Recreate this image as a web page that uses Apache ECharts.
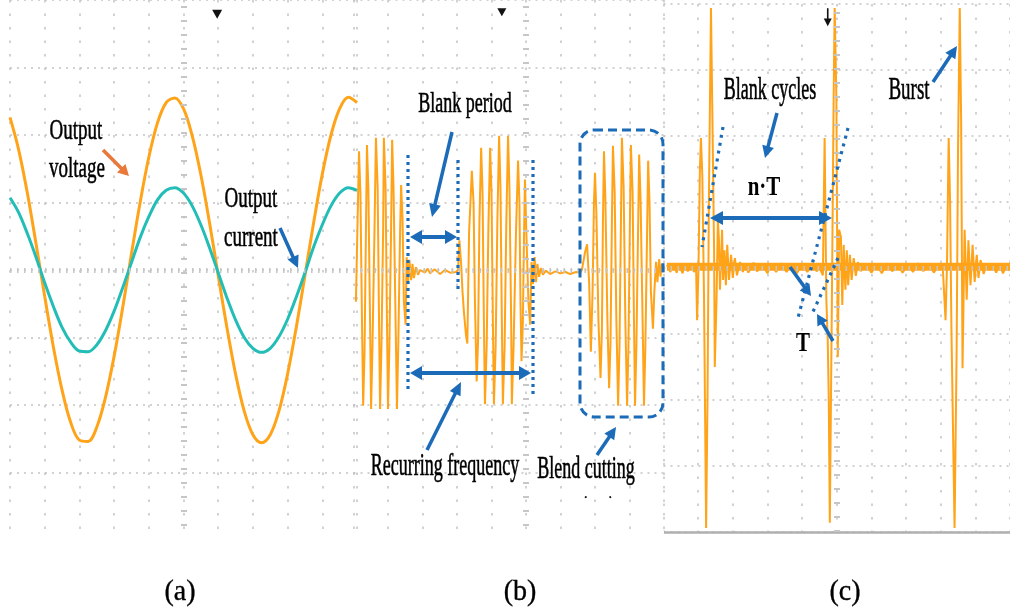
<!DOCTYPE html>
<html><head><meta charset="utf-8">
<script src="https://cdn.jsdelivr.net/npm/echarts@6/dist/echarts.min.js"></script>
<style>html,body{margin:0;padding:0;background:#fff}#c{width:1010px;height:609px}</style>
</head><body><div id="c"></div>
<script>
// ---------- DATA (divisions of the oscilloscope screen) ----------
// Panel (a): sample positions (div) and traces (div)
const aX = [0,0.25,0.5,0.75,1,1.25,1.5,1.75,2,2.25,2.5,2.75,3,3.25,3.5,3.75,4,4.25,4.5,4.75,5,5.25,5.5,5.75,6,6.25,6.5,6.75,7,7.25,7.5,7.75,8,8.25,8.5,8.75,9,9.25,9.5,9.75,10];
const aVoltage = [2.26,1.78,1.14,0.39,-0.39,-1.14,-1.78,-2.26,-2.52,-2.54,-2.33,-1.89,-1.28,-0.55,0.24,1.00,1.67,2.18,2.48,2.55,2.39,1.99,1.41,0.70,-0.08,-0.85,-1.54,-2.09,-2.44,-2.56,-2.44,-2.09,-1.54,-0.85,-0.08,0.70,1.42,2.00,2.39,2.56,2.48];
const aCurrent = [1.07,0.85,0.54,0.19,-0.19,-0.54,-0.85,-1.07,-1.20,-1.21,-1.11,-0.90,-0.61,-0.26,0.11,0.48,0.79,1.04,1.18,1.22,1.14,0.95,0.67,0.33,-0.04,-0.41,-0.74,-1.00,-1.16,-1.22,-1.16,-0.99,-0.73,-0.40,-0.04,0.34,0.67,0.95,1.14,1.22,1.18];

// Panel (b): three bursts [time div, amplitude div]
const bBurst1 = [[0.07,-0.47],[0.16,1.76],[0.20,1.15],[0.25,-0.91],[0.28,-2.01],[0.32,-1.21],[0.36,0.56],[0.39,1.85],[0.43,1.22],[0.48,-0.76],[0.51,-2.06],[0.55,-1.13],[0.61,0.63],[0.65,1.96],[0.70,1.22],[0.74,-0.76],[0.77,-2.06],[0.81,-1.13],[0.86,0.63],[0.88,1.96],[0.93,1.22],[0.97,-0.76],[1.00,-2.06],[1.04,-1.13],[1.09,0.63],[1.12,1.93],[1.16,1.22],[1.22,-0.76],[1.26,-2.06],[1.30,-1.06],[1.35,0.56],[1.38,1.26],[1.42,0.78],[1.46,-0.47],[1.51,-0.81],[1.54,0.19],[1.58,-0.18],[1.62,0.15],[1.67,-0.15],[1.71,0.09],[1.75,-0.12],[1.81,0.04],[1.87,-0.07],[1.93,0],[2.07,-0.04],[2.15,0.02],[2.22,-0.05],[2.35,0.01],[2.51,-0.06],[2.65,0.0],[2.80,-0.04],[2.97,-0.03]];
const bBurst2 = [[3.03,0],[3.07,0.44],[3.12,0.09],[3.16,-0.32],[3.20,-0.62],[3.26,-0.96],[3.30,-1.09],[3.35,0.56],[3.39,1.0],[3.43,1.47],[3.48,1.0],[3.52,-0.47],[3.57,-1.65],[3.61,-1.06],[3.65,0.71],[3.70,1.81],[3.74,1.15],[3.78,-0.76],[3.81,-1.99],[3.86,-1.13],[3.91,0.63],[3.96,1.81],[4.00,1.15],[4.04,-0.76],[4.07,-1.99],[4.12,-1.13],[4.17,0.71],[4.22,1.99],[4.26,1.22],[4.30,-0.76],[4.33,-1.99],[4.38,-1.13],[4.43,0.71],[4.48,1.99],[4.52,1.22],[4.57,-0.76],[4.59,-1.99],[4.64,-1.13],[4.71,0.56],[4.77,1.62],[4.81,1.0],[4.84,-0.47],[4.87,-1.35],[4.91,-0.76],[4.94,0.41],[4.97,1.34],[5.01,0.56],[5.07,-0.47],[5.12,-0.81],[5.16,0.12],[5.20,-0.21],[5.25,0.19],[5.29,-0.18],[5.33,0.09],[5.38,-0.10],[5.43,0.03],[5.49,-0.07],[5.58,-0.01],[5.70,-0.06],[5.85,-0.02],[5.99,-0.05],[6.15,-0.03],[6.28,-0.06],[6.45,-0.03],[6.57,-0.04]];
const bBurst3 = [[6.62,0],[6.71,0.26],[6.77,0.38],[6.83,-0.18],[6.88,-1.21],[6.93,-0.32],[6.97,1.0],[7.00,1.44],[7.04,0.85],[7.10,-0.76],[7.16,-1.60],[7.20,-0.91],[7.23,0.71],[7.26,1.76],[7.30,1.07],[7.36,-0.76],[7.41,-1.75],[7.45,-1.06],[7.49,0.71],[7.52,1.84],[7.57,1.15],[7.62,-0.76],[7.67,-2.01],[7.71,-1.13],[7.75,0.63],[7.78,1.96],[7.83,1.22],[7.88,-0.76],[7.93,-2.01],[7.97,-1.13],[8.01,0.63],[8.04,1.85],[8.09,1.15],[8.13,-0.76],[8.16,-2.01],[8.20,-1.13],[8.25,0.63],[8.28,1.71],[8.32,1.07],[8.38,-0.76],[8.42,-2.01],[8.46,-1.13],[8.51,0.56],[8.54,1.62],[8.58,1.0],[8.62,-0.32],[8.68,-0.87],[8.72,-0.32],[8.77,0.12],[8.81,-0.18],[8.86,0.16],[8.90,-0.10],[8.94,0.09],[9.0,0]];

// Panel (c): baseline noise and three bursts [time div, amplitude div]
const cBand = [[0.1,0.02],[10,0.02]];
const cNoise1 = [[0.10,0.05],[0.2,-0.06],[0.3,0.07],[0.38,-0.07],[0.45,0.05],[0.55,-0.08],[0.62,0.07],[0.7,-0.05],[0.8,0.06],[0.88,-0.06]];
const cSpike1 = [[0.94,0],[0.97,-0.79],[1.01,0],[1.05,1.48],[1.08,1.97],[1.12,1.41],[1.17,-0.48],[1.23,-3.94],[1.27,-2.0],[1.31,1.03],[1.37,3.94],[1.41,2.35],[1.46,0.27],[1.48,-1.50],[1.53,-0.48],[1.57,0.73],[1.60,0.42],[1.63,-0.33],[1.66,0.12],[1.69,0.58],[1.72,-0.18],[1.76,0.27],[1.80,-0.26],[1.84,0.35],[1.89,-0.18],[1.95,0.20],[2.00,-0.15],[2.06,0.15],[2.12,-0.11],[2.21,0.09],[2.29,-0.06]];
const cNoise2 = [[2.35,0.06],[2.45,-0.07],[2.6,0.08],[2.7,-0.05],[2.85,0.06],[3.0,-0.08],[3.1,0.06],[3.25,-0.06],[3.4,0.07],[3.55,-0.06],[3.7,0.05],[3.85,-0.08],[4.0,0.06],[4.15,-0.06],[4.3,0.07],[4.42,-0.05]];
const cSpike2 = [[4.51,0],[4.60,-0.11],[4.65,1.97],[4.70,-0.48],[4.74,-1.09],[4.77,-2.0],[4.80,-3.86],[4.86,-0.48],[4.91,2.55],[4.94,3.94],[4.99,2.55],[5.03,-1.35],[5.07,0.58],[5.12,0.47],[5.16,-0.56],[5.20,0.35],[5.25,-0.33],[5.29,0.27],[5.33,-0.26],[5.38,0.20],[5.43,-0.18],[5.49,0.15],[5.55,-0.12],[5.61,0.09],[5.69,-0.05],[5.78,0.03]];
const cNoise3 = [[5.85,0.06],[6.0,-0.07],[6.15,0.05],[6.3,-0.08],[6.45,0.07],[6.6,-0.05],[6.75,0.06],[6.9,-0.07],[7.05,0.05],[7.2,-0.06],[7.35,0.07],[7.5,-0.05],[7.65,0.07],[7.8,-0.07],[7.95,0.05]];
const cSpike3 = [[8.06,0],[8.14,-0.79],[8.18,0],[8.23,1.97],[8.27,1.03],[8.31,-0.94],[8.40,-3.94],[8.46,-1.24],[8.50,1.79],[8.55,3.94],[8.59,2.24],[8.63,-1.52],[8.69,0.58],[8.75,-0.48],[8.80,0.42],[8.86,-0.26],[8.92,0.35],[8.98,-0.21],[9.04,0.20],[9.09,-0.15],[9.15,0.12],[9.24,-0.09],[9.32,0.06],[9.41,-0.03]];
const cNoise4 = [[9.5,0.06],[9.6,-0.07],[9.7,0.05],[9.8,-0.08],[9.9,0.06],[10,-0.04]];

// trigger markers [time div, amplitude div]
const aTrig = [5.97, 3.79];
const bTrig = [4.30, 3.82];
const cTrig = [4.74, 3.80];

// ---------- STYLE ----------
const ORANGE = '#FFA319', CYAN = '#22BDB6', BLUE = '#1B6BB8', GRID = '#c3c3c3', TXT = '#000';
const SERIF = '"Liberation Serif","Times New Roman",serif';

function xAx(gi, min, max, showLine) {
  return {type:'value', gridIndex:gi, min:min, max:max, interval:1,
    axisLabel:{show:false}, axisTick:{show:false},
    axisLine:{show:showLine, onZero:false, lineStyle:{color:'#b0b0b0', width:2.5}},
    splitLine:{show:true, lineStyle:{color:GRID, width:1.5, type:[2.5,11]}}};
}
function yAx(gi, min, max) {
  return {type:'value', gridIndex:gi, min:min, max:max, interval:1,
    axisLabel:{show:false}, axisTick:{show:false}, axisLine:{show:false},
    splitLine:{show:true, lineStyle:{color:GRID, width:1.5, type:[2,5]}}};
}
const centerMark = {silent:true, symbol:['none','none'], label:{show:false}, animation:false,
  data:[{xAxis:5, lineStyle:{color:'#c6c6c6', width:6, type:[2,12]}},
        {yAxis:0, lineStyle:{color:'#c6c6c6', width:5, type:[1.5,5.5]}}]};
function trig(coord, sym, size) {
  return {silent:true, animation:false, label:{show:false},
    data:[{coord:coord, symbol:sym, symbolSize:size, symbolRotate:sym==='triangle'?180:0, itemStyle:{color:'#111'}}]};
}

// ---------- ANNOTATIONS ----------
function arrow(x1,y1,x2,y2,color,w,hl,hw,both){
  const a=Math.atan2(y2-y1,x2-x1), c=Math.cos(a), s=Math.sin(a);
  const head=(tx,ty,dir)=>({type:'polygon', z:60, shape:{points:[[tx,ty],[tx-dir*hl*c-hw*s, ty-dir*hl*s+hw*c],[tx-dir*hl*c+hw*s, ty-dir*hl*s-hw*c]]}, style:{fill:color}});
  const sx = both ? x1+hl*0.8*c : x1, sy = both ? y1+hl*0.8*s : y1;
  const els=[{type:'line', z:60, shape:{x1:sx,y1:sy,x2:x2-hl*0.8*c,y2:y2-hl*0.8*s}, style:{stroke:color, lineWidth:w}}, head(x2,y2,1)];
  if(both) els.push(head(x1,y1,-1));
  return els;
}
function dotted(x1,y1,x2,y2,dash){
  return {type:'line', z:60, shape:{x1,y1,x2,y2}, style:{stroke:BLUE, lineWidth:3.2, lineDash:dash||[3,4]}};
}
function label(t,x,y,size,sy,bold){
  return {type:'text', z:70, x:x, y:y, scaleY:sy,
    style:{text:t, fontSize:size, fontFamily:SERIF, fontWeight:bold?'bold':'normal', fill:TXT,
      stroke:TXT, lineWidth:bold?0:0.35,
      align:'center', verticalAlign:'middle', textAlign:'center', textVerticalAlign:'middle'}};
}

const els = [
  {type:'rect', z:40, shape:{x:0,y:531,width:664,height:30}, style:{fill:'#fff'}},
  // panel a
  label('Output',76,131,19,1.6), label('voltage',77,169,19,1.6),
  label('Output',251,199,19,1.6), label('current',251,238,19,1.6),
  ...arrow(103,150,129,176,'#E8793A',3.5,11,6,false),
  ...arrow(280,228,298,268,BLUE,3.5,12,6,false),
  // panel b
  dotted(408,155,408,393), dotted(458,160,458,293), dotted(533,160,533,397),
  {type:'rect', z:60, shape:{x:580,y:130,width:83,height:287,r:14}, style:{fill:'none', stroke:BLUE, lineWidth:3, lineDash:[9,5]}},
  label('Blank period',465,104,18,1.65),
  ...arrow(452,132,432,217,BLUE,3.5,13,6,false),
  ...arrow(410,237,457,237,BLUE,4,12,7,true),
  ...arrow(410,373,531,373,BLUE,4,12,7,true),
  ...arrow(427,450,461,382,BLUE,3.5,13,6,false),
  label('Recurring frequency',445,467,18,1.7),
  ...arrow(597,455,616,427,BLUE,3.5,12,6,false),
  label('Blend cutting',586,470,18,1.7),
  label('.      .',598,494,14,1),
  // panel c
  label('Blank cycles',770,91,18,1.7),
  ...arrow(777,113,765,158,BLUE,3.5,12,6,false),
  label('n·T',764,188,21,1.3,true),
  ...arrow(710,218,832,218,BLUE,4,13,7,true),
  dotted(723,127,702,247,[3,5]), dotted(848,128,798,318,[3,5]), dotted(838,258,811,316,[3,5]),
  ...arrow(790,267,811,296,BLUE,3.5,11,6,false),
  ...arrow(833,341,817,314,BLUE,3.5,11,6,false),
  label('T',803,344,21,1.3,true),
  label('Burst',909,91,19,1.65),
  ...arrow(933,82,957,46,BLUE,3.5,12,6,false),
  // captions
  label('(a)',180,592,28,1.05), label('(b)',520,592,28,1.05), label('(c)',845,592,28,1.05)
];

// ---------- CHART ----------
const chart = echarts.init(document.getElementById('c'));
chart.setOption({
  animation:false, backgroundColor:'#fff',
  grid:[{left:10, top:-4, width:347, height:544},
        {left:353.5, top:-4, width:310.5, height:544},
        {left:663.5, top:4, width:347, height:528}],
  xAxis:[xAx(0,0,10,false), xAx(1,0,9,false), xAx(2,0,10,true)],
  yAxis:[yAx(0,-4,4), yAx(1,-4,4), yAx(2,-4,4)],
  series:[
    {type:'line', name:'Output voltage', xAxisIndex:0, yAxisIndex:0, data:aX.map((x,i)=>[x,aVoltage[i]]),
     smooth:0.35, showSymbol:false, lineStyle:{color:ORANGE, width:3}, markLine:centerMark,
     markPoint:trig(aTrig,'triangle',[10,9])},
    {type:'line', name:'Output current', xAxisIndex:0, yAxisIndex:0, data:aX.map((x,i)=>[x,aCurrent[i]]),
     smooth:0.35, showSymbol:false, lineStyle:{color:CYAN, width:3}},
    {type:'line', name:'Burst mode', xAxisIndex:1, yAxisIndex:1, data:bBurst1.concat(bBurst2, bBurst3),
     showSymbol:false, lineStyle:{color:ORANGE, width:2}, markLine:centerMark,
     markPoint:trig(bTrig,'triangle',[9,8])},
    {type:'line', name:'Baseline', xAxisIndex:2, yAxisIndex:2, data:cBand,
     showSymbol:false, lineStyle:{color:ORANGE, width:8}, markLine:centerMark},
    {type:'line', name:'Burst cycles', xAxisIndex:2, yAxisIndex:2,
     data:cNoise1.concat(cSpike1, cNoise2, cSpike2, cNoise3, cSpike3, cNoise4),
     showSymbol:false, lineStyle:{color:ORANGE, width:2},
     markPoint:trig(cTrig,'path://M4,0 L6,0 L6,11 L10,11 L5,19 L0,11 L4,11 Z',[8,18])}
  ],
  graphic:{elements:els}
});
</script></body></html>
